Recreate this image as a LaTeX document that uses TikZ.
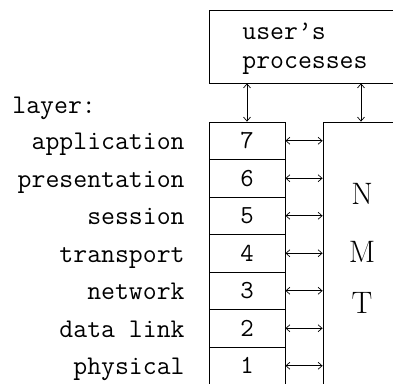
\documentclass[tikz,border=0pt]{standalone}
\usetikzlibrary{arrows.meta}
\begin{document}
\begin{tikzpicture}[x=1pt,y=-1pt,
  line width=0.8pt,
  layerbox/.style={draw,minimum width=76pt,minimum height=37.5pt,inner sep=0pt,
    font=\fontsize{26}{26}\ttfamily},
  lab/.style={anchor=base east,inner sep=0pt,font=\fontsize{27}{29}\ttfamily},
  big/.style={inner sep=0pt,font=\fontsize{31}{31}\rmfamily},
  dbl/.style={{Straight Barb[length=4pt,width=7pt]}-{Straight Barb[length=4pt,width=7pt]},line width=0.7pt}]
\useasboundingbox (0,0) rectangle (393,383);
\clip (0,0) rectangle (393,383);
% user's processes box
\node[draw,minimum width=190pt,minimum height=73pt,inner sep=0pt] (user) at (304,46.5) {};
\node[anchor=base west,inner sep=0pt,font=\fontsize{27}{29}\ttfamily] (u1) at (242,39) {user\textquoteright s};
\node[anchor=base west,inner sep=0pt,font=\fontsize{27}{29}\ttfamily] (u2) at (242,68) {processes};
% layer boxes
\foreach \n/\y in {7/140.75,6/178.25,5/215.75,4/253.25,3/290.75,2/328.25,1/365.75}{
  \node[layerbox] (l\n) at (247,\y) {\n};
}
% NMT box
\node[draw,minimum width=76pt,minimum height=262.5pt,inner sep=0pt] (nmt) at (361,253.25) {};
\node[big] (tn) at (362,194) {N};
\node[big] (tm) at (362,252) {M};
\node[big] (tt) at (362,303) {T};
% labels
\node[anchor=base west,inner sep=0pt,font=\fontsize{27}{29}\ttfamily] (layer) at (12,113) {layer:};
\node[lab] (a7) at (185,149.75) {application};
\node[lab] (a6) at (185,187.25) {presentation};
\node[lab] (a5) at (185,224.75) {session};
\node[lab] (a4) at (185,262.25) {transport};
\node[lab] (a3) at (185,299.75) {network};
\node[lab] (a2) at (185,337.25) {data link};
\node[lab] (a1) at (185,374.75) {physical};
% connectors
\draw[dbl] (l7.north) -- (l7.north |- user.south);
\draw[dbl] (nmt.north) -- (nmt.north |- user.south);
\foreach \n in {7,6,5,4,3,2,1}{
  \draw[dbl] (l\n.east) -- (l\n.east -| nmt.west);
}
\end{tikzpicture}
\end{document}
